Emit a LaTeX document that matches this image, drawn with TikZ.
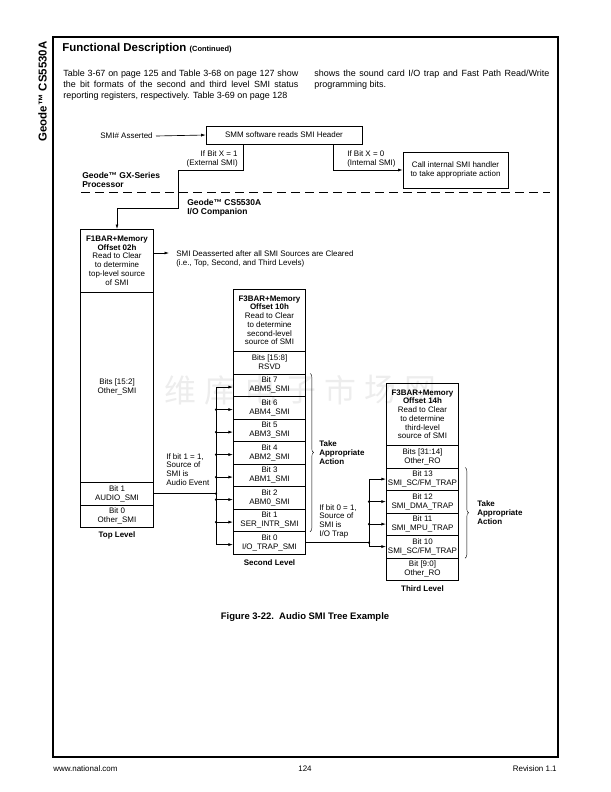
\documentclass[tikz,border=0pt]{standalone}
\usepackage{fontspec}
\setmainfont{Liberation Sans}
\newfontfamily\cjkfont{Noto Sans CJK SC}
\usetikzlibrary{arrows.meta,decorations.pathreplacing}

\begin{document}
\begin{tikzpicture}[x=1bp, y=-1bp, line width=.65bp,
		small/.style={font=\fontsize{8}{9}\selectfont, inner sep=0pt},
		smallb/.style={font=\fontsize{8}{9}\selectfont\bfseries, inner sep=0pt},
		regbox/.style={small, draw, minimum width=72.5bp, align=center, anchor=north},
		bitbox/.style={regbox, minimum height=22.5bp},
		hdrbox/.style={regbox, minimum height=62.5bp, font=\fontsize{8}{8.8}\selectfont},
		arr/.style={-{Latex[length=4.5bp,width=3bp]}},
		jdot/.style={circle, fill, inner sep=0pt, minimum size=2.4bp},
		brc/.style={decorate, decoration={brace, amplitude=3.5bp}, line width=.4bp},
		wmark/.style={font=\cjkfont\fontsize{32}{32}\selectfont, text=black!7, inner sep=0pt}]
	\useasboundingbox (0,0) rectangle (611,792);
	% watermark
	\foreach \c [count=\i] in {维,库,电,子,市,场,网}
		\node[wmark] (w\i) at (140+40*\i,390) {\c};
	% page
	\draw[line width=1.2bp] (53,37) rectangle (558,757);
	\node[rotate=90, font=\fontsize{11.5}{12}\selectfont\bfseries, inner sep=0pt] (side) at (42.5,91.5) {Geode™ CS5530A};
	\node[anchor=base west, inner sep=0pt] (title) at (62,52) {\fontsize{11.5}{12}\selectfont\bfseries Functional Description {\fontsize{7.5}{8}\selectfont (Continued)}};
	\node[anchor=north west, inner sep=0pt, text width=235bp, align=justify, font=\fontsize{9}{11}\selectfont] (colA) at (63,69.4)
		{\parfillskip=0pt\relax Table 3-67 on page 125 and Table 3-68 on page 127 show\linebreak the bit formats of the second and third level SMI status\linebreak reporting registers, respectively. Table 3-69 on page 128};
	\node[anchor=north west, inner sep=0pt, text width=235bp, align=justify, font=\fontsize{9}{11}\selectfont] (colB) at (314,69.4)
		{shows the sound card I/O trap and Fast Path Read/Write\linebreak programming bits.};

	% processor side
	\node[small, anchor=east, inner xsep=3bp] (smi) at (156,136) {SMI\# Asserted};
	\node[small, draw, minimum width=156bp, minimum height=18bp] (hdr) at (284,135) {SMM software reads SMI Header};
	\draw[arr] (smi.east) -- (hdr.west);
	\node[small, anchor=north east, align=right, font=\fontsize{8}{9.5}\selectfont] (ifone) at (238,150) {If Bit X = 1\\(External SMI)};
	\node[small, anchor=north west, align=left, font=\fontsize{8}{9.5}\selectfont] (ifzero) at (347,150) {If Bit X = 0\\(Internal SMI)};
	\node[small, draw, align=center, minimum width=105bp, minimum height=36bp] (call) at (455.5,170) {Call internal SMI handler\\to take appropriate action};
	\coordinate (int) at (333,170);
	\draw[arr] (hdr.south -| int) -- (int) -- (call.west);
	\node[anchor=north west, align=left, inner sep=0pt, font=\fontsize{8.5}{9.5}\selectfont\bfseries] (gx) at (82,172) {Geode™ GX-Series\\Processor};
	\draw[dash pattern=on 9bp off 5bp] (81,192) -- (550,192);
	\node[anchor=north west, align=left, inner sep=0pt, font=\fontsize{8.5}{9.5}\selectfont\bfseries] (cs) at (187,199) {Geode™ CS5530A\\I/O Companion};

	% top level
	\node[hdrbox] (f1) at (117,229) {\textbf{F1BAR+Memory}\\\textbf{Offset 02h}\\Read to Clear\\to determine\\top-level source\\of SMI};
	\node[regbox, minimum height=190.5bp] (t2) at (117,291.5) {Bits [15:2]\\Other\_SMI};
	\node[bitbox] (t1) at (117,482) {Bit 1\\AUDIO\_SMI};
	\node[bitbox] (t0) at (117,504.5) {Bit 0\\Other\_SMI};
	\node[smallb] (lvlA) at (117,535) {Top Level};
	\coordinate (ext) at (243,170);
	\coordinate (ext2) at (178,208);
	\draw[arr] (hdr.south -| ext) -- (ext) -| (ext2) -- (ext2 -| f1.north) -- (f1.north);
	\coordinate (deas) at (169,253);
	\draw[arr] (f1.east |- deas) -- (deas);
	\node[small, anchor=north west, align=left] (deastxt) at (176,250) {SMI Deasserted after all SMI Sources are Cleared\\(i.e., Top, Second, and Third Levels)};

	% second level
	\node[hdrbox, minimum height=62bp] (f3a) at (269.5,289) {\textbf{F3BAR+Memory}\\\textbf{Offset 10h}\\Read to Clear\\to determine\\second-level\\source of SMI};
	\foreach \nm/\txt [count=\k from 0] in {r/{Bits [15:8]\\RSVD}, b7/{Bit 7\\ABM5\_SMI}, b6/{Bit 6\\ABM4\_SMI},
			b5/{Bit 5\\ABM3\_SMI}, b4/{Bit 4\\ABM2\_SMI}, b3/{Bit 3\\ABM1\_SMI}, b2/{Bit 2\\ABM0\_SMI},
			b1/{Bit 1\\SER\_INTR\_SMI}, b0/{Bit 0\\I/O\_TRAP\_SMI}}
		\node[bitbox] (\nm) at (269.5,351+22.5*\k) {\txt};
	\node[smallb] (lvlB) at (269.5,563) {Second Level};
	\coordinate (bus2) at (216,0);
	\foreach \i in {7,...,0}
		\coordinate (p\i) at ([yshift=-2bp]b\i.west);
	\draw (p7 -| bus2) -- (p0 -| bus2);
	\foreach \i in {7,...,0}
		\draw[arr] (p\i -| bus2) -- (p\i);
	\foreach \i in {6,...,1}
		\node[jdot] (d\i) at (p\i -| bus2) {};
	\draw (t1.east) -- (t1.east -| bus2) node[jdot] (da) {};
	\node[small, anchor=north west, align=left, font=\fontsize{8}{8.8}\selectfont] (ifaudio) at (166,453) {If bit 1 = 1,\\Source of\\SMI is\\Audio Event};
	\draw[brc] ([xshift=4bp]b7.north east) -- ([xshift=4bp]b1.south east);
	\node[smallb, anchor=west, align=left] (actB) at (319,452.8) {Take\\Appropriate\\Action};

	% third level
	\node[hdrbox, minimum height=62bp] (f3b) at (422.5,383) {\textbf{F3BAR+Memory}\\\textbf{Offset 14h}\\Read to Clear\\to determine\\third-level\\source of SMI};
	\foreach \nm/\txt [count=\k from 0] in {o1/{Bits [31:14]\\Other\_RO}, c13/{Bit 13\\SMI\_SC/FM\_TRAP},
			c12/{Bit 12\\SMI\_DMA\_TRAP}, c11/{Bit 11\\SMI\_MPU\_TRAP}, c10/{Bit 10\\SMI\_SC/FM\_TRAP}, o0/{Bit [9:0]\\Other\_RO}}
		\node[bitbox] (\nm) at (422.5,445+22.5*\k) {\txt};
	\node[smallb] (lvlC) at (422.5,589) {Third Level};
	\coordinate (bus3) at (369,0);
	\draw (c13.west -| bus3) -- (c10.west -| bus3);
	\foreach \i in {13,12,11,10}
		\draw[arr] (c\i.west -| bus3) -- (c\i.west);
	\foreach \i in {12,11}
		\node[jdot] (e\i) at (c\i.west -| bus3) {};
	\draw (b0.east) -- (b0.east -| bus3) node[jdot] (db) {};
	\node[small, anchor=north west, align=left, font=\fontsize{8}{8.8}\selectfont] (iftrap) at (319,504) {If bit 0 = 1,\\Source of\\SMI is\\I/O Trap};
	\draw[brc] ([xshift=6bp]c13.north east) -- ([xshift=6bp]c10.south east);
	\node[smallb, anchor=west, align=left] (actC) at (477,512.8) {Take\\Appropriate\\Action};

	% caption and footer
	\node[font=\fontsize{9.5}{10}\selectfont\bfseries, inner sep=0pt] (cap) at (305,617) {Figure 3-22.\ \ Audio SMI Tree Example};
	\node[small, anchor=west] (web) at (53,769) {www.national.com};
	\node[small] (page) at (305,769) {124};
	\node[small, anchor=east] (rev) at (557,769) {Revision 1.1};
\end{tikzpicture}
\end{document}
